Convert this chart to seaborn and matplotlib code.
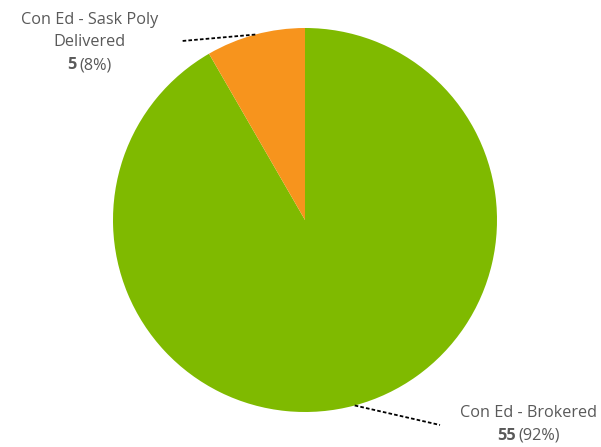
import numpy as np
import matplotlib
matplotlib.use("Agg")
import matplotlib.pyplot as plt
import seaborn as sns

# data
labels = ["Con Ed - Brokered", "Con Ed - Sask Poly\nDelivered"]
values = [55, 5]
colors = ["#7FBA00", "#F7941D"]

sns.set_theme(style="white")
plt.rcParams['font.family'] = ['Open Sans', 'DejaVu Sans']

W, H = 601, 447
fig = plt.figure(figsize=(W / 100, H / 100), dpi=100)
ax = fig.add_axes([0, 0, 1, 1])
ax.set_aspect("equal")
ax.axis("off")

cx, cy, r = 305, H - 220, 192
wedges, _ = ax.pie(values, colors=colors, startangle=90, counterclock=False,
                   center=(cx, cy), radius=r, wedgeprops=dict(linewidth=0))
ax.set_xlim(0, W)
ax.set_ylim(0, H)

total = sum(values)
txt_col = "#595959"
fs = 11.7
# label centre x, first line y (px from top), leader end (px)
lab_pos = [(528.5, 413, 440, 425), (89.5, 20, 182, 41)]
fig.canvas.draw()
rend = fig.canvas.get_renderer()
for w, lab, v, (tx, ty, lx, ly) in zip(wedges, labels, values, lab_pos):
    ang = np.deg2rad((w.theta1 + w.theta2) / 2)
    px, py = cx + r * np.cos(ang), cy + r * np.sin(ang)
    ax.plot([px, lx], [py, H - ly], color="black", lw=1.3, ls=(0, (2, 1.2)))
    lines = lab.split("\n")
    for i, line in enumerate(lines):
        ax.text(tx, H - (ty + 22.5 * i), line, ha="center", va="center",
                fontsize=fs, color=txt_col)
    yv = H - (ty + 22.5 * len(lines))
    t1 = ax.text(0, yv, str(v), ha="left", va="center", fontsize=fs,
                 color=txt_col, fontweight="bold")
    t2 = ax.text(0, yv, "({:.0f}%)".format(v / total * 100), ha="left",
                 va="center", fontsize=fs, color=txt_col)
    w1 = t1.get_window_extent(rend).width
    w2 = t2.get_window_extent(rend).width
    gap = 3
    x0 = tx - (w1 + gap + w2) / 2
    t1.set_x(x0)
    t2.set_x(x0 + w1 + gap)

fig.savefig("out.png", dpi=100)
